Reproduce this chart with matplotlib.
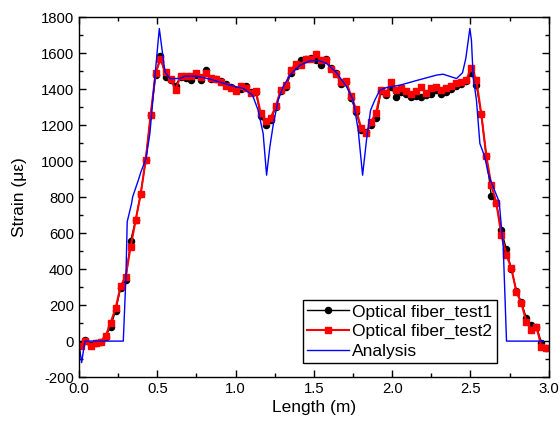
import matplotlib as mpl

mpl.use('Agg')
import matplotlib.pyplot as plt
from matplotlib.ticker import MultipleLocator

plt.rcParams['font.family'] = ['Liberation Sans', 'DejaVu Sans']
plt.rcParams['axes.unicode_minus'] = False

# measurement positions along the fiber (m)
length = [0.01, 0.04, 0.075, 0.106, 0.138, 0.17, 0.202, 0.234, 0.266, 0.298,
          0.33, 0.362, 0.394, 0.426, 0.458, 0.49, 0.52, 0.553, 0.585, 0.617,
          0.649, 0.681, 0.713, 0.745, 0.777, 0.809, 0.841, 0.873, 0.905, 0.937,
          0.969, 1.001, 1.033, 1.065, 1.097, 1.129, 1.161, 1.193, 1.225, 1.257,
          1.289, 1.321, 1.353, 1.385, 1.417, 1.449, 1.481, 1.513, 1.545, 1.577,
          1.609, 1.641, 1.673, 1.705, 1.737, 1.769, 1.801, 1.833, 1.865, 1.897,
          1.929, 1.961, 1.993, 2.025, 2.057, 2.089, 2.121, 2.153, 2.185, 2.217,
          2.249, 2.281, 2.313, 2.345, 2.377, 2.409, 2.441, 2.473, 2.505, 2.537,
          2.569, 2.601, 2.633, 2.665, 2.697, 2.729, 2.761, 2.793, 2.825, 2.857,
          2.889, 2.921, 2.953, 2.985]

test1 = [-20, 5, -20, -10, -5, 25, 80, 170, 295, 340,
         557, 672, 817, 1005, 1255, 1480, 1585, 1465, 1450, 1420,
         1470, 1460, 1450, 1480, 1450, 1509, 1456, 1455, 1445, 1430,
         1410, 1395, 1400, 1415, 1385, 1385, 1250, 1200, 1230, 1300,
         1390, 1410, 1490, 1530, 1560, 1570, 1575, 1560, 1533, 1565,
         1520, 1490, 1430, 1440, 1350, 1275, 1175, 1160, 1200, 1240,
         1390, 1370, 1412, 1357, 1385, 1375, 1357, 1360, 1357, 1370,
         1375, 1395, 1374, 1385, 1400, 1420, 1430, 1445, 1492, 1425,
         1261, 1028, 806, 765, 617, 509, 400, 280, 215, 126,
         89, 80, -9, -41]

test2 = [-30, 0, -28, -13, -4, 28, 102, 183, 306, 357,
         524, 672, 817, 1005, 1259, 1492, 1565, 1496, 1455, 1398,
         1472, 1472, 1475, 1490, 1465, 1487, 1460, 1455, 1440, 1420,
         1404, 1391, 1417, 1409, 1381, 1391, 1265, 1224, 1242, 1306,
         1398, 1422, 1506, 1539, 1533, 1565, 1570, 1593, 1560, 1561,
         1511, 1483, 1441, 1446, 1363, 1289, 1185, 1154, 1218, 1268,
         1394, 1376, 1441, 1394, 1404, 1391, 1375, 1391, 1413, 1380,
         1404, 1413, 1394, 1409, 1417, 1435, 1441, 1450, 1520, 1453,
         1261, 1028, 867, 768, 590, 480, 404, 274, 209, 107,
         61, 80, -32, -41]

# analysis curve
ana_x = [0.0, 0.017, 0.038, 0.283, 0.30, 0.308, 0.336, 0.343, 0.379, 0.396,
         0.428, 0.453, 0.479, 0.513, 0.549, 0.581, 0.645, 0.677, 0.751, 0.836,
         0.964, 1.049, 1.108, 1.144, 1.176, 1.198, 1.219, 1.24, 1.272, 1.304,
         1.347, 1.411, 1.474, 1.527, 1.581, 1.645, 1.709, 1.751, 1.783, 1.811,
         1.836, 1.862, 1.889, 1.921, 1.964, 2.049, 2.177, 2.283, 2.325, 2.411,
         2.449, 2.47, 2.496, 2.506, 2.517, 2.538, 2.56, 2.591, 2.613, 2.628,
         2.683, 2.709, 2.73, 2.964]
ana_y = [-13, -120, 0, 0, 357, 663, 765, 802, 894, 941,
         1014, 1154, 1413, 1737, 1496, 1459, 1459, 1472, 1472, 1456,
         1422, 1404, 1367, 1283, 1154, 922, 1080, 1200, 1339, 1413,
         1478, 1533, 1557, 1560, 1543, 1491, 1413, 1339, 1172, 922,
         1117, 1283, 1339, 1394, 1409, 1422, 1453, 1478, 1483, 1459,
         1491, 1570, 1737, 1672, 1469, 1339, 1098, 1024, 931, 894,
         774, 524, 0, 0]

fig = plt.figure(figsize=(5.6, 4.29), dpi=100)
ax = fig.add_axes([0.141, 0.121, 0.839, 0.839])

ax.plot(length, test1, color='black', lw=1, marker='o', ms=4.4,
        label='Optical fiber_test1')
ax.plot(length, test2, color='red', lw=1.5, marker='s', ms=4.4,
        label='Optical fiber_test2')
ax.plot(ana_x, ana_y, color='blue', lw=1, label='Analysis')

ax.set_xlim(0, 3)
ax.set_ylim(-200, 1800)
ax.xaxis.set_major_locator(MultipleLocator(0.5))
ax.xaxis.set_minor_locator(MultipleLocator(0.25))
ax.yaxis.set_major_locator(MultipleLocator(200))
ax.yaxis.set_minor_locator(MultipleLocator(100))
ax.tick_params(which='both', direction='in', top=True, right=True,
               labelsize=10.7, width=1)
ax.tick_params(which='major', length=5)
ax.tick_params(which='minor', length=3)
for s in ax.spines.values():
    s.set_linewidth(1)

ax.set_xlabel('Length (m)', fontsize=12.5, labelpad=3)
ax.set_ylabel('Strain (\u03bc\u03b5)', fontsize=12.5, labelpad=10)

leg = ax.legend(loc='lower right', bbox_to_anchor=(0.889, 0.039), fontsize=12.5,
                numpoints=1, fancybox=False, framealpha=1, edgecolor='black',
                handlelength=2.4, borderpad=0.25, labelspacing=0.25,
                handletextpad=0.2, borderaxespad=0)
leg.get_frame().set_linewidth(1)

fig.savefig('out.png', dpi=100)
